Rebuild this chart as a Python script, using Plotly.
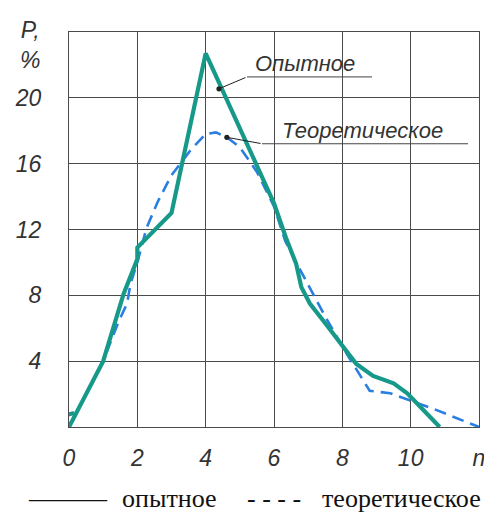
import plotly.graph_objects as go

# --- data ---
exp_x = [-0.08, 0.15, None, 0, 1, 1.6, 1.85, 2, 2, 3, 4, 6, 6.35, 6.65, 6.8, 7.05, 7.5, 7.95, 8.4, 8.9, 9.5, 9.9, 10.85]
exp_y = [0.72, 0.85, None, 0, 4, 8.1, 9.5, 10.2, 10.9, 13, 22.7, 13.6, 11.5, 9.9, 8.5, 7.5, 6.3, 5.1, 3.85, 3.1, 2.65, 2.05, 0]

theo_x = [0.1, 0.5, 1, 1.45, 1.7, 1.8, 2, 2.27, 2.6, 3, 3.25, 3.55, 4, 4.3, 4.62, 5, 5.5, 6,
          6.33, 6.7, 7.5, 8.13, 8.8, 9.4, 10, 10.67, 12]
theo_y = [0.4, 2.0, 4.0, 6.4, 7.5, 8.7, 10.0, 12.1, 13.7, 15.3, 16.0, 16.8, 17.8, 17.9, 17.6, 17.0, 15.5, 13.4,
          11.3, 9.8, 6.7, 4.45, 2.2, 2.05, 1.6, 1.1, 0]

x_tickvals = [0, 2, 4, 6, 8, 10, 12]
x_ticktext = ["0", "2", "4", "6", "8", "10", "n"]
y_tickvals = [0, 4, 8, 12, 16, 20, 24]
y_ticktext = ["", "4", "8", "12", "16", "20", ""]

TEAL = "#17998a"
BLUE = "#2b7fe0"
INK = "#333333"
GRID = "#4a4a4a"
FONT = "Liberation Sans"

fig = go.Figure()
fig.add_trace(go.Scatter(x=theo_x, y=theo_y, mode="lines", name="теоретическое",
                         line=dict(color=BLUE, width=2.6, dash="12px,7px"), showlegend=False))
fig.add_trace(go.Scatter(x=exp_x, y=exp_y, mode="lines", name="опытное", connectgaps=False,
                         line=dict(color=TEAL, width=4.2), showlegend=False))

tickfont = dict(family=FONT, size=23, color=INK, style="italic")
fig.update_xaxes(range=[0, 12], tickvals=x_tickvals, ticktext=x_ticktext, tickfont=tickfont,
                 showgrid=True, gridcolor=GRID, gridwidth=1, zeroline=False,
                 showline=True, linecolor=GRID, linewidth=1, mirror=True, ticks="",
                 ticklabelstandoff=10, ticklabeloverflow="allow", automargin=False)
fig.update_yaxes(range=[0, 24], tickvals=y_tickvals, ticktext=y_ticktext, tickfont=tickfont,
                 showgrid=True, gridcolor=GRID, gridwidth=1, zeroline=False,
                 showline=True, linecolor=GRID, linewidth=1, mirror=True, ticks="",
                 ticklabelstandoff=22, automargin=False)

annfont = dict(family=FONT, size=22, color=INK, style="italic")
legfont = dict(family="Liberation Serif", size=26, color="#111")
anns = [
    dict(x=6.9, y=22.06, xref="x", yref="y", text="Опытное", showarrow=False, font=annfont),
    dict(x=8.59, y=18.0, xref="x", yref="y", text="Теоретическое", showarrow=False, font=annfont),
    # leaders with dot ends
    dict(x=4.39, y=20.55, xref="x", yref="y", ax=5.21, ay=21.27, axref="x", ayref="y",
         text="", showarrow=True, arrowhead=6, arrowsize=1.3, arrowwidth=1, arrowcolor="#222"),
    dict(x=4.62, y=17.6, xref="x", yref="y", ax=5.65, ay=17.21, axref="x", ayref="y",
         text="", showarrow=True, arrowhead=6, arrowsize=1.3, arrowwidth=1, arrowcolor="#222"),
    dict(x=-0.095, y=0.967, xref="paper", yref="paper", xanchor="center", yanchor="middle",
         text="P,<br>%", showarrow=False,
         font=dict(family=FONT, size=23, color=INK, style="italic")),
    # legend row
    dict(x=-0.0024, y=-0.182, xref="paper", yref="paper", xanchor="center", yanchor="middle",
         text="———", showarrow=False, font=legfont),
    dict(x=0.246, y=-0.182, xref="paper", yref="paper", xanchor="center", yanchor="middle",
         text="опытное", showarrow=False, font=legfont),
    dict(x=0.4988, y=-0.182, xref="paper", yref="paper", xanchor="center", yanchor="middle",
         text="- - - -", showarrow=False, font=legfont),
    dict(x=0.811, y=-0.182, xref="paper", yref="paper", xanchor="center", yanchor="middle",
         text="теоретическое", showarrow=False, font=legfont),
]
shapes = [
    dict(type="line", xref="x", yref="y", x0=5.21, y0=21.27, x1=8.87, y1=21.27,
         line=dict(color="#444", width=1)),
    dict(type="line", xref="x", yref="y", x0=5.65, y0=17.21, x1=11.68, y1=17.21,
         line=dict(color="#444", width=1)),
]

fig.update_layout(width=484, height=513, margin=dict(l=69, r=5, t=32, b=86, autoexpand=False),
                  paper_bgcolor="white", plot_bgcolor="white",
                  annotations=anns, shapes=shapes, showlegend=False)

fig.write_html("out.html")
